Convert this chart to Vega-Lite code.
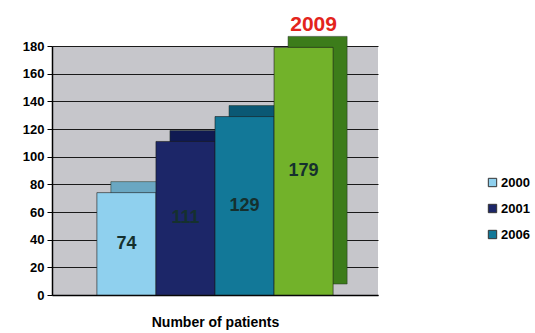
{
  "$schema": "https://vega.github.io/schema/vega-lite/v6.json",
  "autosize": "none",
  "width": 326,
  "height": 249,
  "padding": {"left": 52, "top": 46, "right": 157, "bottom": 38},
  "background": "white",
  "config": {
    "view": {"fill": "#c6c6cb", "stroke": null},
    "font": "Liberation Sans",
    "axisY": {
      "labelOverlap": false,
      "grid": true,
      "gridColor": "#1a1a1a",
      "gridWidth": 1.2,
      "domainColor": "black",
      "domainWidth": 1.5,
      "tickColor": "black",
      "tickSize": 5,
      "labelFont": "Liberation Sans",
      "labelFontSize": 13,
      "labelFontWeight": "bold",
      "labelColor": "black",
      "labelPadding": 3
    }
  },
  "data": {
    "values": [
      {"year": "2000", "value": 74},
      {"year": "2001", "value": 111},
      {"year": "2006", "value": 129},
      {"year": "2009", "value": 179}
    ]
  },
  "encoding": {
    "x": {
      "field": "year",
      "type": "nominal",
      "scale": {"paddingInner": 0, "paddingOuter": 0.76},
      "axis": {
        "labels": false,
        "ticks": false,
        "domainColor": "black",
        "domainWidth": 1.5,
        "title": "Number of patients",
        "titleFont": "Liberation Sans",
        "titleFontSize": 14,
        "titleFontWeight": "bold",
        "titleColor": "black",
        "titlePadding": 20
      }
    }
  },
  "resolve": {"scale": {"color": "independent"}, "legend": {"color": "independent"}},
  "layer": [
    {
      "mark": {"type": "bar", "xOffset": 14, "yOffset": -11, "stroke": "#203020", "strokeWidth": 0.5},
      "encoding": {
        "y": {
          "field": "value",
          "type": "quantitative",
          "scale": {"domain": [0, 180], "nice": false},
          "axis": {"values": [0, 20, 40, 60, 80, 100, 120, 140, 160, 180], "title": null}
        },
        "color": {
          "field": "year",
          "type": "nominal",
          "scale": {"domain": ["2000", "2001", "2006", "2009"], "range": ["#6aa7c2", "#101a52", "#0a5874", "#3c7c1a"]},
          "legend": null
        }
      }
    },
    {
      "mark": {"type": "bar", "stroke": "#1a1a1a", "strokeWidth": 0.6},
      "encoding": {
        "y": {"field": "value", "type": "quantitative", "axis": {"values": [0, 20, 40, 60, 80, 100, 120, 140, 160, 180], "title": null}},
        "color": {
          "field": "year",
          "type": "nominal",
          "scale": {"domain": ["2000", "2001", "2006", "2009"], "range": ["#8fd0ee", "#1c2668", "#127898", "#72b22a"]},
          "legend": {
            "values": ["2000", "2001", "2006"],
            "title": null,
            "orient": "none",
            "legendX": 434,
            "legendY": 130,
            "symbolType": "square",
            "symbolSize": 70,
            "symbolStrokeColor": "#333",
            "symbolStrokeWidth": 1,
            "labelFont": "Liberation Sans",
            "labelFontSize": 13,
            "labelFontWeight": "bold",
            "labelColor": "black",
            "labelOffset": 2,
            "rowPadding": 12
          }
        }
      }
    },
    {
      "transform": [{"calculate": "datum.value / 2", "as": "mid"}],
      "mark": {"type": "text", "font": "Liberation Sans", "fontSize": 18, "fontWeight": "bold", "color": "#15302e"},
      "encoding": {
        "y": {"field": "mid", "type": "quantitative", "axis": {"values": [0, 20, 40, 60, 80, 100, 120, 140, 160, 180], "title": null}},
        "text": {"field": "value", "type": "quantitative"}
      }
    },
    {
      "transform": [{"filter": "datum.year == '2009'"}],
      "mark": {"type": "text", "font": "Liberation Sans", "fontSize": 21, "fontWeight": "bold", "color": "#e3241c", "baseline": "bottom", "dx": 10, "dy": -12},
      "encoding": {
        "y": {"field": "value", "type": "quantitative", "axis": {"values": [0, 20, 40, 60, 80, 100, 120, 140, 160, 180], "title": null}},
        "text": {"field": "year", "type": "nominal"}
      }
    }
  ]
}
